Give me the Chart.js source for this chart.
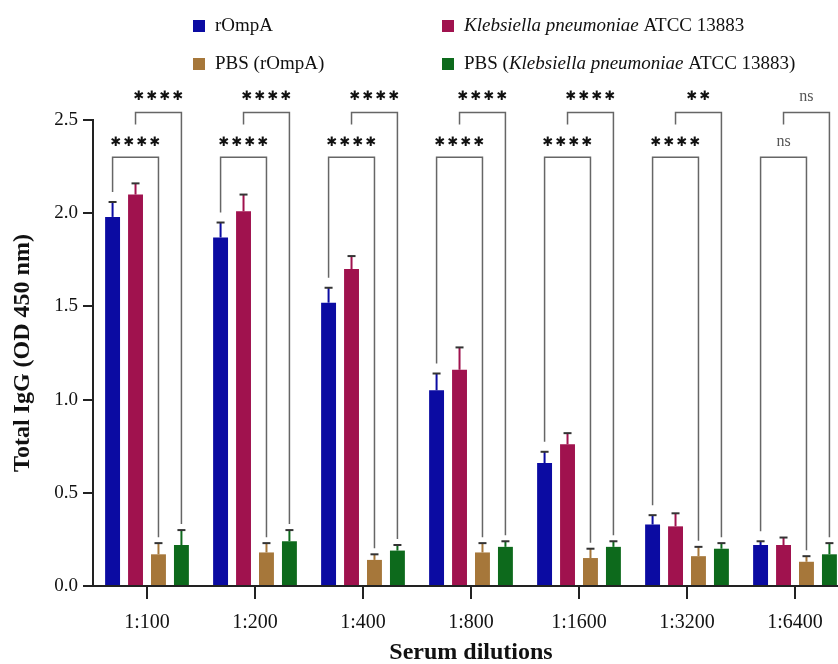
<!DOCTYPE html>
<html>
<head>
<meta charset="utf-8">
<script src="https://cdn.jsdelivr.net/npm/chart.js@4"></script>
<style>
  html, body { margin: 0; padding: 0; background: #fff; }
  #wrap { width: 838px; height: 664px; overflow: hidden; position: relative; }
</style>
</head>
<body>
<div id="wrap"><canvas id="igg" width="862" height="664"></canvas></div>
<script>
const categories = ['1:100', '1:200', '1:400', '1:800', '1:1600', '1:3200', '1:6400'];

const rOmpA      = [1.98, 1.87, 1.52, 1.05, 0.66, 0.33, 0.22];
const rOmpAErr   = [0.08, 0.08, 0.08, 0.09, 0.06, 0.05, 0.02];
const kpn        = [2.10, 2.01, 1.70, 1.16, 0.76, 0.32, 0.22];
const kpnErr     = [0.06, 0.09, 0.07, 0.12, 0.06, 0.07, 0.04];
const pbsROmpA   = [0.17, 0.18, 0.14, 0.18, 0.15, 0.16, 0.13];
const pbsROmpAErr= [0.06, 0.05, 0.03, 0.05, 0.05, 0.05, 0.03];
const pbsKpn     = [0.22, 0.24, 0.19, 0.21, 0.21, 0.20, 0.17];
const pbsKpnErr  = [0.08, 0.06, 0.03, 0.03, 0.03, 0.03, 0.06];

const yTicks = [0, 0.5, 1.0, 1.5, 2.0, 2.5];

// rOmpA vs PBS (rOmpA), K. pneumoniae vs PBS (K. pneumoniae)
const sigLower = ['****', '****', '****', '****', '****', '****', 'ns'];
const sigUpper = ['****', '****', '****', '****', '****', '**', 'ns'];

// legend text, [text, italic]
const legendLabels = [
  [['rOmpA', false]],
  [['Klebsiella pneumoniae', true], [' ATCC 13883', false]],
  [['PBS (rOmpA)', false]],
  [['PBS (', false], ['Klebsiella pneumoniae', true], [' ATCC 13883)', false]]
];

const colors = ['#0b0ba2', '#a0124e', '#a6773a', '#0d6a1c'];
const serif = "'Liberation Serif', 'Times New Roman', serif";

const errorBars = {
  id: 'errorBars',
  afterDatasetsDraw(chart) {
    const { ctx } = chart;
    const y = chart.scales.y;
    ctx.save();
    chart.data.datasets.forEach((ds, di) => {
      const meta = chart.getDatasetMeta(di);
      meta.data.forEach((bar, i) => {
        const top = y.getPixelForValue(ds.data[i] + ds.errors[i]);
        ctx.strokeStyle = ds.backgroundColor;
        ctx.lineWidth = 2;
        ctx.beginPath();
        ctx.moveTo(bar.x, bar.y);
        ctx.lineTo(bar.x, top);
        ctx.stroke();
        ctx.strokeStyle = '#333';
        ctx.beginPath();
        ctx.moveTo(bar.x - 4, top);
        ctx.lineTo(bar.x + 4, top);
        ctx.stroke();
      });
    });
    ctx.restore();
  }
};

function drawSig(ctx, text, cx, cy) {
  ctx.save();
  ctx.textAlign = 'center';
  ctx.textBaseline = 'middle';
  if (text === 'ns') {
    ctx.fillStyle = '#555';
    ctx.font = '16px ' + serif;
    ctx.fillText('ns', cx, cy);
  } else {
    ctx.fillStyle = '#111';
    ctx.font = 'bold 13px "DejaVu Sans"';
    const step = 13;
    const n = text.length;
    for (let k = 0; k < n; k++) {
      ctx.fillText('\u2731', cx + (k - (n - 1) / 2) * step, cy);
    }
  }
  ctx.restore();
}

const brackets = {
  id: 'brackets',
  afterDatasetsDraw(chart) {
    const { ctx } = chart;
    const y = chart.scales.y;
    const ds = chart.data.datasets;
    const m = ds.map((d, i) => chart.getDatasetMeta(i).data);
    const lowY = y.getPixelForValue(2.30);
    const highY = y.getPixelForValue(2.54);
    ctx.save();
    ctx.strokeStyle = '#666';
    ctx.lineWidth = 1.5;
    categories.forEach((c, i) => {
      // lower: rOmpA vs PBS (rOmpA)
      const x1 = m[0][i].x, x2 = m[2][i].x;
      const b1 = y.getPixelForValue(ds[0].data[i] + ds[0].errors[i]) - 10;
      const b2 = y.getPixelForValue(ds[2].data[i] + ds[2].errors[i]) - 6;
      ctx.beginPath();
      ctx.moveTo(x1, b1);
      ctx.lineTo(x1, lowY);
      ctx.lineTo(x2, lowY);
      ctx.lineTo(x2, b2);
      ctx.stroke();
      drawSig(ctx, sigLower[i], (x1 + x2) / 2, lowY - 15);

      // upper: K. pneumoniae vs PBS (K. pneumoniae)
      const x3 = m[1][i].x, x4 = m[3][i].x;
      const b4 = y.getPixelForValue(ds[3].data[i] + ds[3].errors[i]) - 6;
      ctx.beginPath();
      ctx.moveTo(x3, highY + 12);
      ctx.lineTo(x3, highY);
      ctx.lineTo(x4, highY);
      ctx.lineTo(x4, b4);
      ctx.stroke();
      drawSig(ctx, sigUpper[i], (x3 + x4) / 2, highY - 16);
    });
    ctx.restore();
  }
};

const legendBox = {
  id: 'legendBox',
  afterDraw(chart) {
    const { ctx } = chart;
    const cols = [193, 442];
    const rows = [26, 64];
    ctx.save();
    ctx.textBaseline = 'middle';
    legendLabels.forEach((parts, i) => {
      const x = cols[i % 2], yy = rows[Math.floor(i / 2)];
      ctx.fillStyle = colors[i];
      ctx.fillRect(x, yy - 6, 12, 12);
      let tx = x + 22;
      ctx.fillStyle = '#111';
      parts.forEach(([t, it]) => {
        ctx.font = (it ? 'italic ' : '') + '19px ' + serif;
        ctx.fillText(t, tx, yy);
        tx += ctx.measureText(t).width;
      });
    });
    ctx.restore();
  }
};

const mk = (label, data, errors, color) => ({
  label, data, errors,
  backgroundColor: color,
  borderWidth: 0,
  categoryPercentage: 0.85,
  barPercentage: 0.65
});

new Chart(document.getElementById('igg'), {
  type: 'bar',
  data: {
    labels: categories,
    datasets: [
      mk('rOmpA', rOmpA, rOmpAErr, colors[0]),
      mk('Klebsiella pneumoniae ATCC 13883', kpn, kpnErr, colors[1]),
      mk('PBS (rOmpA)', pbsROmpA, pbsROmpAErr, colors[2]),
      mk('PBS (Klebsiella pneumoniae ATCC 13883)', pbsKpn, pbsKpnErr, colors[3])
    ]
  },
  options: {
    responsive: false,
    animation: false,
    layout: { padding: { top: 120, right: 13, bottom: 0, left: 0 } },
    plugins: {
      legend: { display: false },
      tooltip: { enabled: false }
    },
    scales: {
      x: {
        afterFit(scale) { scale.height = 78; },
        border: { color: '#222', width: 2 },
        grid: { drawOnChartArea: false, offset: false, tickLength: 13, color: '#222', lineWidth: 2 },
        ticks: { color: '#111', padding: 12, font: { family: serif, size: 20 } },
        title: {
          display: true, text: 'Serum dilutions', color: '#111',
          padding: { top: 2, bottom: -3 },
          font: { family: serif, size: 24, weight: 'bold' }
        }
      },
      y: {
        min: 0, max: 2.5,
        afterFit(scale) { scale.width = 93; },
        afterBuildTicks(scale) { scale.ticks = yTicks.map(v => ({ value: v })); },
        border: { color: '#222', width: 2 },
        grid: { drawOnChartArea: false, tickLength: 10, color: '#222', lineWidth: 2 },
        ticks: {
          color: '#111', padding: 5,
          font: { family: serif, size: 19 },
          callback: v => v.toFixed(1)
        },
        title: {
          display: true, text: 'Total IgG (OD 450 nm)', color: '#111',
          padding: { top: 8, bottom: 4 },
          font: { family: serif, size: 24, weight: 'bold' }
        }
      }
    }
  },
  plugins: [errorBars, brackets, legendBox]
});
</script>
</body>
</html>
